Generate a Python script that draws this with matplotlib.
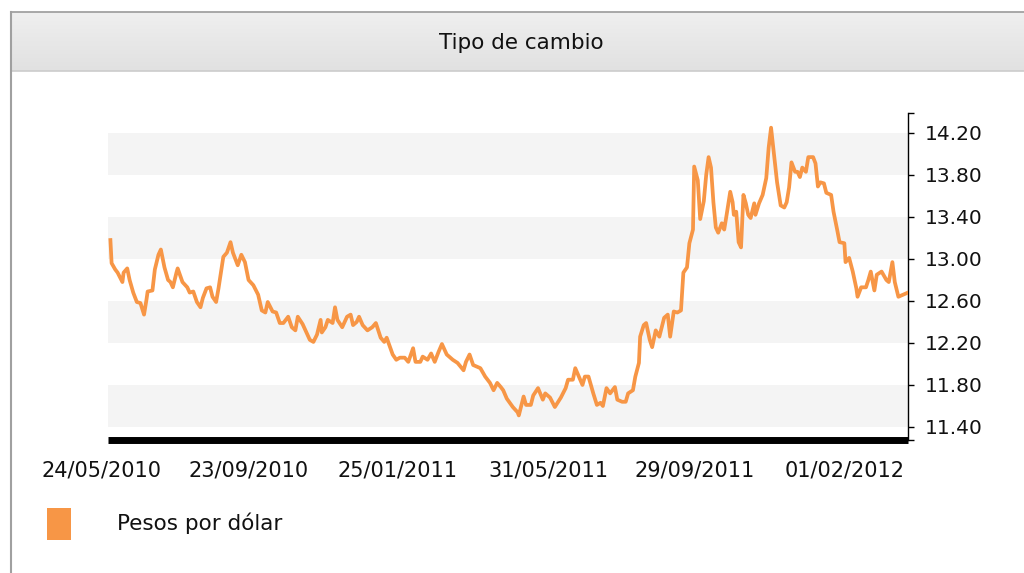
import numpy as np
import pandas as pd
import matplotlib
matplotlib.use('Agg')
import matplotlib.pyplot as plt
import matplotlib.dates as mdates
from matplotlib.patches import Rectangle
from matplotlib.lines import Line2D

# datos: dias desde 24/05/2010 y pesos por dolar
inicio = '2010-05-24'
dias = [7, 8, 11, 13, 17, 18, 21, 23, 26, 29, 32, 35, 37, 38, 42, 44, 47, 49, 52, 55,
        57, 59, 62, 63, 67, 71, 73, 76, 79, 82, 84, 87, 90, 92, 95, 97, 101, 104, 107, 109,
        113, 116, 119, 122, 126, 130, 133, 136, 138, 142, 145, 148, 151, 155, 158, 161, 163, 167, 169, 173,
        176, 179, 182, 183, 186, 188, 192, 194, 196, 200, 204, 207, 209, 212, 214, 217, 221, 225, 228, 232,
        235, 237, 242, 245, 248, 252, 255, 259, 261, 265, 267, 271, 274, 277, 280, 283, 287, 292, 296, 301,
        303, 306, 309, 315, 319, 323, 326, 329, 332, 334, 337, 342, 346, 347, 351, 353, 357, 359, 363, 367,
        369, 373, 377, 382, 386, 388, 392, 394, 397, 400, 402, 405, 409, 412, 415, 417, 420, 423, 427, 429,
        433, 436, 438, 442, 444, 447, 448, 451, 453, 456, 458, 461, 464, 468, 471, 473, 476, 479, 482, 484,
        487, 489, 492, 493, 496, 498, 501, 503, 505, 507, 509, 511, 513, 516, 518, 520, 523, 525, 526, 528,
        530, 532, 534, 536, 538, 540, 543, 544, 547, 550, 553, 555, 557, 559, 562, 565, 568, 570, 572, 574,
        577, 579, 581, 583, 586, 588, 592, 594, 596, 598, 601, 603, 607, 609, 612, 614, 618, 619, 622, 625,
        628, 629, 632, 636, 638, 640, 643, 645, 649, 653, 655, 658, 660, 663, 667, 671]
pesos = [13.18, 12.96, 12.90, 12.87, 12.78, 12.87, 12.91, 12.80, 12.68, 12.59, 12.58, 12.47, 12.61, 12.69, 12.70, 12.90, 13.04, 13.09, 12.92, 12.80,
         12.78, 12.73, 12.87, 12.91, 12.78, 12.73, 12.68, 12.69, 12.59, 12.54, 12.63, 12.72, 12.73, 12.64, 12.59, 12.72, 13.02, 13.06, 13.16, 13.06,
         12.94, 13.04, 12.97, 12.80, 12.75, 12.66, 12.51, 12.49, 12.59, 12.50, 12.49, 12.39, 12.39, 12.45, 12.35, 12.32, 12.45, 12.38, 12.33, 12.23,
         12.21, 12.28, 12.42, 12.30, 12.35, 12.42, 12.39, 12.54, 12.42, 12.35, 12.45, 12.47, 12.37, 12.40, 12.45, 12.37, 12.32, 12.35, 12.39, 12.25,
         12.21, 12.25, 12.09, 12.04, 12.06, 12.06, 12.02, 12.15, 12.02, 12.02, 12.07, 12.04, 12.10, 12.02, 12.11, 12.19, 12.09, 12.04, 12.01, 11.94,
         12.02, 12.09, 11.99, 11.96, 11.88, 11.82, 11.75, 11.82, 11.78, 11.75, 11.67, 11.59, 11.54, 11.51, 11.69, 11.61, 11.61, 11.70, 11.77, 11.66,
         11.72, 11.68, 11.59, 11.68, 11.77, 11.85, 11.85, 11.96, 11.88, 11.80, 11.88, 11.88, 11.72, 11.61, 11.63, 11.60, 11.77, 11.72, 11.78, 11.66,
         11.64, 11.64, 11.72, 11.75, 11.88, 12.01, 12.26, 12.37, 12.39, 12.23, 12.16, 12.32, 12.26, 12.44, 12.47, 12.26, 12.50, 12.49, 12.51, 12.87,
         12.92, 13.15, 13.28, 13.88, 13.75, 13.38, 13.55, 13.80, 13.97, 13.87, 13.54, 13.30, 13.25, 13.34, 13.28, 13.42, 13.64, 13.54, 13.42, 13.45,
         13.16, 13.11, 13.61, 13.53, 13.42, 13.39, 13.53, 13.42, 13.53, 13.61, 13.77, 14.06, 14.25, 14.04, 13.73, 13.51, 13.49, 13.54, 13.68, 13.92,
         13.83, 13.83, 13.78, 13.87, 13.83, 13.97, 13.97, 13.91, 13.69, 13.73, 13.72, 13.63, 13.61, 13.45, 13.28, 13.16, 13.15, 12.97, 13.01, 12.88,
         12.72, 12.64, 12.73, 12.73, 12.80, 12.88, 12.70, 12.85, 12.88, 12.80, 12.78, 12.97, 12.78, 12.64, 12.66, 12.68]

etiquetas = ['24/05/2010', '23/09/2010', '25/01/2011', '31/05/2011', '29/09/2011', '01/02/2012']
yticks = [11.40, 11.80, 12.20, 12.60, 13.00, 13.40, 13.80, 14.20]
titulo = 'Tipo de cambio'
serie = 'Pesos por dólar'

naranja = '#F79646'
W, H = 1024, 573

fechas = pd.Timestamp(inicio) + pd.to_timedelta(dias, unit='D')

fig = plt.figure(figsize=(W / 100, H / 100), dpi=100)
fig.patch.set_facecolor('white')

def fx(px):
    return px / W

def fy(py):
    return 1 - py / H

# cabecera con degradado
hax = fig.add_axes([fx(11), fy(71), 1 - fx(11), 59 / H])
grad = np.linspace(0, 1, 64).reshape(-1, 1)
hax.imshow(grad, aspect='auto', cmap=matplotlib.colors.LinearSegmentedColormap.from_list('g', ['#efefef', '#e1e1e1']),
           extent=[0, 1, 0, 1], origin='upper')
hax.set_axis_off()
fig.text(fx(521), fy(43), titulo, ha='center', va='center', fontsize=15.5, color='#111111')

# bordes
fig.add_artist(Line2D([fx(11), 1], [fy(12), fy(12)], color='#9a9a9a', lw=1.2))
fig.add_artist(Line2D([fx(11), 1], [fy(71), fy(71)], color='#cccccc', lw=1.2))
fig.add_artist(Line2D([fx(11), fx(11)], [fy(12), 0], color='#a0a0a0', lw=1.5))

# grafico
ax = fig.add_axes([fx(108), fy(440), 800 / W, 327 / H])
ax.set_facecolor('white')
for lo in [11.40, 12.20, 13.00, 13.80]:
    ax.axhspan(lo, lo + 0.40, color='#f4f4f4', zorder=0, lw=0)

ax.plot(fechas, pesos, color=naranja, lw=2.7, zorder=3, solid_joinstyle='round')

ax.set_xlim(pd.Timestamp('2010-05-29'), pd.Timestamp('2012-03-25'))
ax.set_ylim(11.276, 14.39)

for s in ['left', 'top']:
    ax.spines[s].set_visible(False)
ax.spines['right'].set_color('black')
ax.spines['right'].set_linewidth(1)
ax.spines['bottom'].set_color('black')
ax.spines['bottom'].set_linewidth(5)
ax.spines['bottom'].set_capstyle('butt')

ax.yaxis.tick_right()
ax.set_yticks(yticks)
ax.set_yticklabels(['%.2f' % v for v in yticks])
ax.set_yticks([11.276, 14.39], minor=True)
ax.tick_params(axis='y', which='both', direction='out', length=4, width=1, color='black',
               labelsize=14.5, pad=8, labelcolor='#111111')
ax.tick_params(axis='x', which='both', bottom=False, labelbottom=False)

for e in etiquetas:
    x = mdates.date2num(pd.to_datetime(e, dayfirst=True))
    ax.text(x, -0.092, e, transform=ax.get_xaxis_transform(), ha='center', va='center',
            fontsize=15, color='#111111', clip_on=False)

# leyenda
fig.add_artist(Rectangle((fx(47), fy(540)), 24 / W, 32 / H, color=naranja, lw=0))
fig.text(fx(117), fy(523), serie, ha='left', va='center', fontsize=15.5, color='#111111')

fig.savefig('out.png', dpi=100)
